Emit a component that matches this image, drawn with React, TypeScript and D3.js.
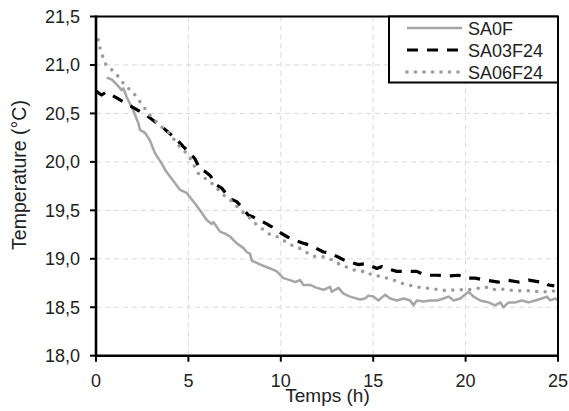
import React from "react";
import * as d3 from "d3";

const xTicks = [0, 5, 10, 15, 20, 25];
const yTicks = [18.0, 18.5, 19.0, 19.5, 20.0, 20.5, 21.0, 21.5];

const seriesNames = ["SA0F", "SA03F24", "SA06F24"];

const sa0fTime = [0.58,0.85,1.12,1.39,1.48,1.66,2.02,2.29,2.38,2.65,2.92,3.19,3.5,3.8,4.2,4.55,4.91,5.27,5.63,5.99,6.26,6.35,6.53,6.71,6.98,7.25,7.62,7.98,8.16,8.34,8.43,8.9,9.42,9.78,10.14,10.5,10.77,11.05,11.22,11.59,11.95,12.31,12.67,12.76,13.12,13.39,13.75,14.29,14.56,14.74,15.01,15.28,15.65,15.92,16.28,16.64,17.0,17.18,17.36,17.72,18.08,18.45,18.8,19.08,19.35,19.71,20.16,20.43,20.79,21.24,21.6,21.88,22.05,22.32,22.69,23.05,23.41,23.77,24.13,24.4,24.58,24.85,25.0];
const sa0fTemp = [20.87,20.85,20.8,20.74,20.76,20.67,20.53,20.4,20.33,20.3,20.22,20.09,20.0,19.9,19.8,19.71,19.68,19.59,19.5,19.4,19.36,19.38,19.33,19.28,19.26,19.23,19.16,19.11,19.07,19.05,18.98,18.94,18.9,18.87,18.8,18.78,18.76,18.78,18.73,18.73,18.7,18.68,18.71,18.66,18.7,18.64,18.61,18.58,18.59,18.62,18.61,18.57,18.63,18.59,18.57,18.59,18.57,18.52,18.57,18.56,18.57,18.57,18.59,18.61,18.57,18.59,18.66,18.61,18.57,18.55,18.52,18.55,18.5,18.55,18.55,18.57,18.55,18.57,18.59,18.61,18.57,18.59,18.57];

const sa03Time = [0,0.3,0.55,1.12,1.66,2.38,2.74,3.29,3.64,4.37,4.71,5.09,5.36,5.63,5.9,6.17,6.53,6.8,7.25,7.62,7.8,8.25,8.52,9.24,9.51,9.69,10.32,10.6,11.22,11.59,12.31,12.67,13.39,13.66,14.2,14.56,15.2,15.47,15.74,16.28,16.82,17.36,17.81,18.53,18.9,19.62,19.98,20.52,21.06,21.78,22.24,22.86,23.41,24.04,24.31,24.49,24.8];
const sa03Temp = [20.73,20.69,20.72,20.66,20.6,20.52,20.48,20.4,20.35,20.23,20.16,20.09,20.03,19.92,19.9,19.86,19.76,19.73,19.62,19.59,19.55,19.45,19.43,19.36,19.33,19.3,19.23,19.2,19.16,19.14,19.07,19.06,18.99,18.97,18.94,18.95,18.9,18.92,18.9,18.87,18.87,18.87,18.83,18.83,18.82,18.83,18.8,18.8,18.78,18.76,18.78,18.76,18.78,18.76,18.76,18.73,18.72];

const sa06Time = [0.12,0.22,0.36,0.54,0.85,1.21,1.48,1.8,2.11,2.38,2.65,2.92,3.29,3.56,3.91,4.19,4.46,4.73,5.0,5.54,5.9,6.26,6.89,7.25,7.53,7.8,8.16,8.43,8.7,9.06,9.42,9.78,10.23,10.68,11.14,11.59,11.95,12.31,12.76,13.12,13.48,13.85,14.29,14.66,14.93,15.38,15.74,16.1,16.46,16.91,17.36,17.72,18.18,18.63,18.99,19.44,19.8,20.16,20.52,21.06,21.42,21.88,22.24,22.69,23.14,23.5,23.95,24.31,24.67,25.0];
const sa06Temp = [21.26,21.17,21.09,21.0,20.95,20.88,20.81,20.75,20.69,20.62,20.55,20.48,20.41,20.36,20.31,20.24,20.17,20.12,20.07,19.88,19.83,19.78,19.66,19.61,19.56,19.5,19.45,19.4,19.35,19.3,19.25,19.23,19.18,19.13,19.1,19.04,19.02,19.02,18.99,18.95,18.92,18.89,18.87,18.87,18.83,18.82,18.8,18.78,18.75,18.73,18.71,18.7,18.69,18.68,18.67,18.68,18.68,18.68,18.69,18.71,18.68,18.69,18.68,18.67,18.67,18.67,18.66,18.66,18.66,18.69];

const W = 569;
const H = 411;
const left = 96;
const right = 558;
const top = 16.5;
const bottom = 355.7;
const FONT = "'Liberation Sans', Arial, sans-serif";

const styles = [
  { stroke: "#a6a6a6", width: 2.5, dash: undefined as string | undefined, cap: "butt" },
  { stroke: "#000000", width: 3.2, dash: "11,9", cap: "butt" },
  { stroke: "#9a9a9a", width: 3.6, dash: "0,8.5", cap: "round" },
];

export default function App() {
  const x = d3.scaleLinear().domain([0, 25]).range([left, right]);
  const y = d3.scaleLinear().domain([18, 21.5]).range([bottom, top]);
  const line = d3
    .line<[number, number]>()
    .x((d) => x(d[0]))
    .y((d) => y(d[1]));

  const data: [number, number][][] = [
    sa0fTime.map((t, i) => [t, sa0fTemp[i]] as [number, number]),
    sa03Time.map((t, i) => [t, sa03Temp[i]] as [number, number]),
    sa06Time.map((t, i) => [t, sa06Temp[i]] as [number, number]),
  ];

  const fmt = (v: number) => v.toFixed(1).replace(".", ",");

  const legX = 389;
  const legY = top;
  const legW = right - legX;
  const legH = 66;
  const legRows = [28, 50, 72];

  return (
    <svg
      width={W}
      height={H}
      style={{ position: "absolute", left: 0, top: 0, background: "#fff" }}
      fontFamily={FONT}
    >
      <rect x={0} y={0} width={W} height={H} fill="#fff" />
      {/* grid */}
      {yTicks
        .filter((v) => v > 18 && v < 21.5)
        .map((v) => (
          <line key={"gy" + v} x1={left} x2={right} y1={y(v)} y2={y(v)} stroke="#d9d9d9" strokeWidth={1} strokeDasharray="5,4" />
        ))}
      {xTicks
        .filter((v) => v > 0 && v < 25)
        .map((v) => (
          <line key={"gx" + v} x1={x(v)} x2={x(v)} y1={top} y2={bottom} stroke="#d9d9d9" strokeWidth={1} strokeDasharray="5,4" />
        ))}
      {/* series */}
      {data.map((d, i) => (
        <path
          key={seriesNames[i]}
          d={line(d) || ""}
          fill="none"
          stroke={styles[i].stroke}
          strokeWidth={styles[i].width}
          strokeDasharray={styles[i].dash}
          strokeLinecap={styles[i].cap as any}
          strokeLinejoin="round"
        />
      ))}
      {/* frame */}
      <line x1={left} x2={right} y1={top} y2={top} stroke="#000" strokeWidth={2} />
      <line x1={right} x2={right} y1={top} y2={bottom} stroke="#000" strokeWidth={2} />
      <line x1={left} x2={left} y1={top - 1} y2={bottom + 1} stroke="#000" strokeWidth={2.6} />
      <line x1={left - 1} x2={right + 1} y1={bottom} y2={bottom} stroke="#000" strokeWidth={2.6} />
      {/* y ticks */}
      {yTicks.map((v) => (
        <g key={"yt" + v}>
          <line x1={left - 6} x2={left} y1={y(v)} y2={y(v)} stroke="#000" strokeWidth={2} />
          <text x={80} y={y(v) + 6.5} textAnchor="end" fontSize={18} fill="#222">
            {fmt(v)}
          </text>
        </g>
      ))}
      {/* x ticks */}
      {xTicks.map((v) => (
        <g key={"xt" + v}>
          <line x1={x(v)} x2={x(v)} y1={bottom} y2={bottom + 6} stroke="#000" strokeWidth={2} />
          <text x={x(v)} y={386.5} textAnchor="middle" fontSize={18} fill="#222">
            {v}
          </text>
        </g>
      ))}
      {/* axis titles */}
      <text x={327.5} y={401.5} textAnchor="middle" fontSize={19} fill="#222">
        Temps (h)
      </text>
      <text
        transform={`translate(26,175) rotate(-90)`}
        textAnchor="middle"
        fontSize={19.5}
        fill="#222"
      >
        Temperature (°C)
      </text>
      {/* legend */}
      <rect x={legX} y={legY} width={legW} height={legH} fill="#fff" stroke="#000" strokeWidth={2} />
      {seriesNames.map((n, i) => (
        <g key={"leg" + n}>
          <line
            x1={407}
            x2={462}
            y1={legY + legRows[i] - 16.5}
            y2={legY + legRows[i] - 16.5}
            stroke={styles[i].stroke}
            strokeWidth={styles[i].width}
            strokeDasharray={styles[i].dash}
            strokeLinecap={styles[i].cap as any}
          />
          <text x={468} y={legY + legRows[i] - 16.5 + 6.5} fontSize={18} fill="#222">
            {n}
          </text>
        </g>
      ))}
      <line x1={right} x2={right} y1={top} y2={bottom} stroke="#000" strokeWidth={2} />
    </svg>
  );
}
